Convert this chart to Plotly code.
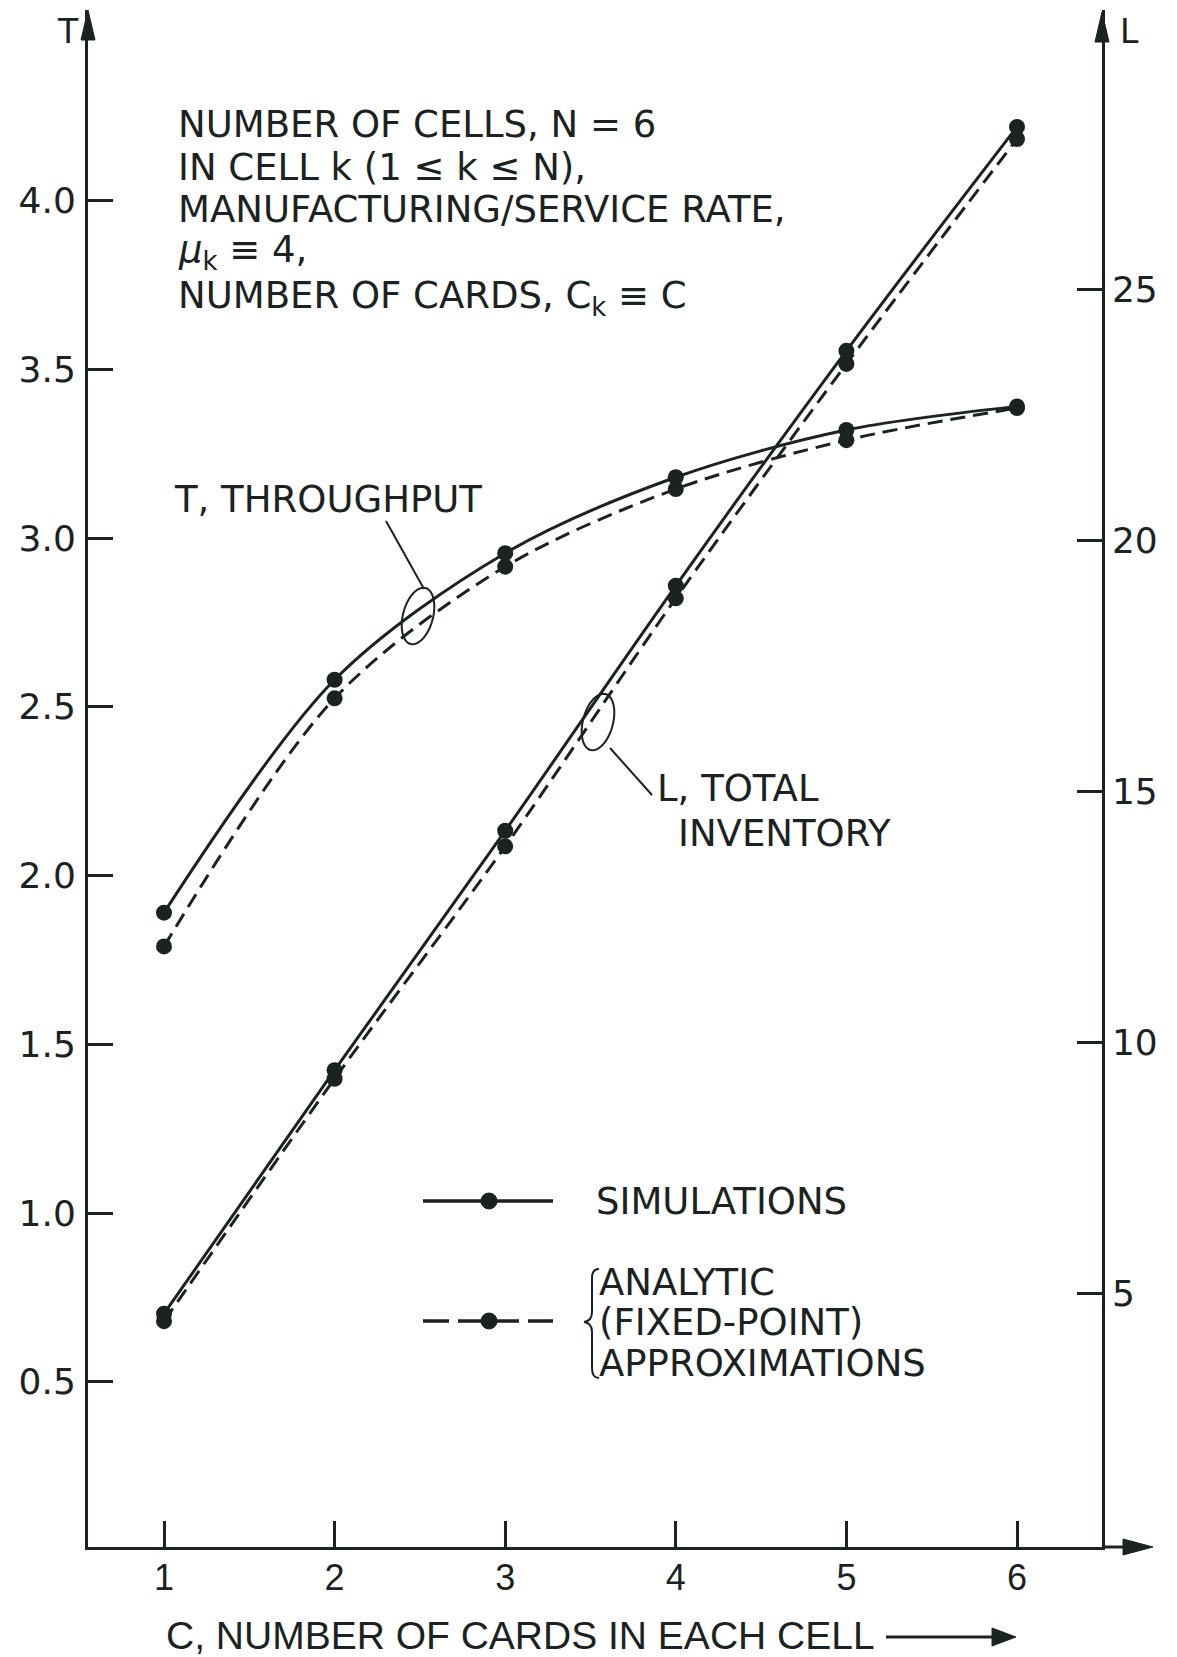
import numpy as np
import plotly.graph_objects as go

# ---------------- data ----------------
cards = [1, 2, 3, 4, 5, 6]
throughput_sim = [1.89, 2.58, 2.955, 3.18, 3.32, 3.39]
throughput_analytic = [1.79, 2.525, 2.915, 3.145, 3.29, 3.385]
inventory_sim = [4.6, 9.45, 14.22, 19.1, 23.78, 28.24]
inventory_analytic = [4.45, 9.28, 13.91, 18.85, 23.52, 28.0]

t_ticks = [0.5, 1.0, 1.5, 2.0, 2.5, 3.0, 3.5, 4.0]
t_ticktext = ["0.5", "1.0", "1.5", "2.0", "2.5", "3.0", "3.5", "4.0"]
l_ticks = [5, 10, 15, 20, 25]
l_ticktext = ["5", "10", "15", "20", "25"]
c_ticks = [1, 2, 3, 4, 5, 6]
c_ticktext = ["1", "2", "3", "4", "5", "6"]

# ---------------- styling ----------------
INK = "#1b2222"
FONT = "DejaVu Sans"
FONT2 = "Liberation Sans"
W, H = 1177, 1657
BODY = 8                               # default page margin of the html body
PL, PR, PT, PB = 88, 1102, 10, 1547   # plot-area pixel box (page coordinates)


def px(x):
    return (x - PL) / (PR - PL)


def py(y):
    return (PB - y) / (PB - PT)


fig = go.Figure()

line_solid = dict(color=INK, width=3, shape="spline", smoothing=0.9)
line_dash = dict(color=INK, width=3, dash="15px,8px", shape="spline", smoothing=0.9)
mk = dict(size=16, color=INK)

fig.add_trace(go.Scatter(x=cards, y=throughput_analytic, mode="lines+markers",
                         line=line_dash, marker=mk, showlegend=False))
fig.add_trace(go.Scatter(x=cards, y=throughput_sim, mode="lines+markers",
                         line=line_solid, marker=mk, showlegend=False))
fig.add_trace(go.Scatter(x=cards, y=inventory_analytic, mode="lines+markers",
                         line=line_dash, marker=mk, yaxis="y2", showlegend=False))
fig.add_trace(go.Scatter(x=cards, y=inventory_sim, mode="lines+markers",
                         line=line_solid, marker=mk, yaxis="y2", showlegend=False))

shapes = []
annotations = []


def arrowhead(xp, yp, path):
    shapes.append(dict(type="path", xref="paper", yref="paper",
                       xsizemode="pixel", ysizemode="pixel",
                       xanchor=px(xp), yanchor=py(yp), path=path,
                       fillcolor=INK, line=dict(color=INK, width=1)))


def ellipse(cx, cy, rx, ry, tilt_deg):
    th = np.linspace(0, 2 * np.pi, 49)
    a = np.deg2rad(tilt_deg)
    xs = rx * np.cos(th)
    ys = ry * np.sin(th)
    xr = xs * np.cos(a) - ys * np.sin(a)
    yr = xs * np.sin(a) + ys * np.cos(a)
    path = "M " + " L ".join(f"{u:.2f},{v:.2f}" for u, v in zip(xr, yr)) + " Z"
    shapes.append(dict(type="path", xref="paper", yref="paper",
                       xsizemode="pixel", ysizemode="pixel",
                       xanchor=px(cx), yanchor=py(cy), path=path,
                       line=dict(color=INK, width=2)))


def seg(x0, y0, x1, y1, width=2, dash="solid"):
    shapes.append(dict(type="line", xref="paper", yref="paper",
                       x0=px(x0), y0=py(y0), x1=px(x1), y1=py(y1),
                       line=dict(color=INK, width=width, dash=dash)))


def text(x, y, s, size=37, family=FONT, anchor="left"):
    annotations.append(dict(xref="paper", yref="paper", x=px(x), y=py(y),
                            text=s, showarrow=False, xanchor=anchor,
                            yanchor="middle",
                            font=dict(family=family, size=size, color=INK)))


# axis arrowheads
arrowhead(PL, 10, "M 0,0 L -7,-30 L 7,-30 Z")
arrowhead(PR, 12, "M 0,0 L -7,-30 L 7,-30 Z")
seg(PR, PB, 1128, PB, width=3)
arrowhead(1153, PB, "M 0,0 L -30,8 L -30,-8 Z")

# axis letters
text(68, 32, "T", size=33, anchor="center")
text(1129, 32, "L", size=33, anchor="center")

# parameter block
text(176, 124, "NUMBER OF CELLS, N = 6")
text(176, 167, "IN CELL k (1 ≤ k ≤ N),")
text(176, 209, "MANUFACTURING/SERVICE RATE,")
text(176, 252, "<i>μ</i><sub>k</sub> ≡ 4,")
text(176, 298, "NUMBER OF CARDS, C<sub>k</sub> ≡ C")

# curve labels with ellipses and leaders
text(172, 499, "T, THROUGHPUT")
ellipse(418, 616, 15, 29, -15)
seg(386, 521, 424, 589)
ellipse(598, 722, 15, 29, -15)
seg(610, 748, 652, 795)
text(655, 788, "L, TOTAL")
text(676, 834, "INVENTORY")

# legend
seg(423, 1201, 553, 1201, width=3.5)
shapes.append(dict(type="circle", xref="paper", yref="paper",
                   xsizemode="pixel", ysizemode="pixel",
                   xanchor=px(489), yanchor=py(1201), x0=-8, x1=8, y0=-8, y1=8,
                   fillcolor=INK, line=dict(color=INK, width=1)))
text(594, 1201, "SIMULATIONS")
seg(423, 1321, 553, 1321, width=3.5, dash="26px,9px")
shapes.append(dict(type="circle", xref="paper", yref="paper",
                   xsizemode="pixel", ysizemode="pixel",
                   xanchor=px(489), yanchor=py(1321), x0=-8, x1=8, y0=-8, y1=8,
                   fillcolor=INK, line=dict(color=INK, width=1)))
shapes.append(dict(type="path", xref="paper", yref="paper",
                   xsizemode="pixel", ysizemode="pixel",
                   xanchor=px(590), yanchor=py(1322),
                   path="M 9,53 Q 2,53 2,44 L 2,10 Q 2,1 -6,0 Q 2,-1 2,-10 "
                        "L 2,-46 Q 2,-56 9,-56",
                   line=dict(color=INK, width=2)))
text(597, 1282, "ANALYTIC")
text(597, 1322, "(FIXED-POINT)")
text(597, 1363, "APPROXIMATIONS")

# x-axis title with arrow
text(164, 1635, "C, NUMBER OF CARDS IN EACH CELL", size=39, family=FONT2)
seg(886, 1637, 996, 1637, width=3)
arrowhead(1016, 1637, "M 0,0 L -24,9 L -24,-9 Z")

# ---------------- axes ----------------
x_lo = 1 + (PL - 164) / 170.6
x_hi = 6 + (PR - 1017) / 170.6
t_lo = (1550.5 - PB) / 337.5
t_hi = (1550.5 - PT) / 337.5
l_lo = (1544.6 - PB) / 50.2
l_hi = (1544.6 - PT) / 50.2

axis_common = dict(showgrid=False, zeroline=False, showline=True,
                   linecolor=INK, ticks="inside", tickcolor=INK)

fig.update_layout(
    width=W - BODY, height=H - BODY,
    margin=dict(l=PL - BODY, r=W - PR, t=PT - BODY, b=H - PB, pad=0),
    paper_bgcolor="white", plot_bgcolor="white",
    showlegend=False,
    xaxis=dict(range=[x_lo, x_hi], tickvals=c_ticks, ticktext=c_ticktext,
               ticklen=26, tickwidth=2.5, linewidth=3,
               ticklabelstandoff=-3,
               tickfont=dict(family=FONT2, size=36, color=INK),
               **axis_common),
    yaxis=dict(range=[t_lo, t_hi], tickvals=t_ticks, ticktext=t_ticktext,
               ticklen=25, tickwidth=2.5, linewidth=3,
               ticklabelstandoff=2,
               tickfont=dict(family=FONT, size=36, color=INK),
               **axis_common),
    yaxis2=dict(range=[l_lo, l_hi], tickvals=l_ticks, ticktext=l_ticktext,
                overlaying="y", side="right",
                ticklen=25, tickwidth=2.5, linewidth=2.5,
                ticklabelstandoff=0,
                tickfont=dict(family=FONT, size=36, color=INK),
                **axis_common),
    shapes=shapes,
    annotations=annotations,
)

fig.write_html("out.html")
